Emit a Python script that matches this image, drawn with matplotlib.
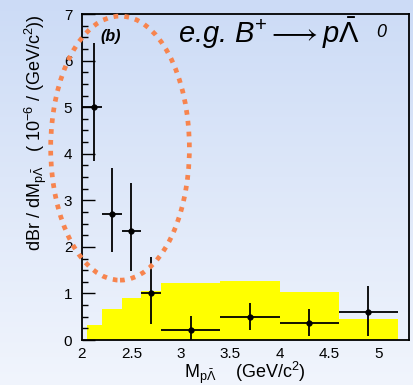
import numpy as np
import matplotlib
matplotlib.use("Agg")
from matplotlib import pyplot as plt, ticker as plticker
from matplotlib.patches import Ellipse

plt.rcParams["font.family"] = ["Liberation Sans", "DejaVu Sans"]
plt.rcParams["mathtext.fontset"] = "custom"
plt.rcParams["mathtext.rm"] = "Liberation Sans"
plt.rcParams["mathtext.it"] = "Liberation Sans:italic"
plt.rcParams["mathtext.bf"] = "Liberation Sans:bold"

# Measured spectrum: bin centres, bin edges, values and error limits
m_center = [2.12, 2.3, 2.5, 2.7, 3.1, 3.7, 4.3, 4.9]
m_lo = [2.0, 2.2, 2.4, 2.6, 2.8, 3.4, 4.0, 4.6]
m_hi = [2.2, 2.4, 2.6, 2.8, 3.4, 4.0, 4.6, 5.2]
dbr = [5.0, 2.7, 2.34, 1.0, 0.22, 0.5, 0.36, 0.61]
dbr_up = [6.38, 3.69, 3.38, 1.79, 0.52, 0.80, 0.66, 1.15]
dbr_down = [3.85, 1.88, 1.49, 0.35, 0.0, 0.22, 0.09, 0.09]

# Phase-space expectation (yellow histogram)
ps_edges = [2.05, 2.2, 2.4, 2.6, 2.8, 3.4, 4.0, 4.6, 5.2]
ps_height = [0.33, 0.67, 0.91, 1.05, 1.22, 1.26, 1.03, 0.45]

# Threshold enhancement region
region_center = (2.385, 4.12)
region_size = (1.404, 5.67)


def draw_plot():
    fig = plt.figure(figsize=(4.13, 3.85), dpi=100)

    # light blue vertical gradient behind everything
    bg = fig.add_axes([0, 0, 1, 1], zorder=-10)
    top = np.array([0.80, 0.86, 0.965])
    bottom = np.array([0.945, 0.96, 0.99])
    t = np.linspace(0, 1, 256)[:, None]
    grad = (top * (1 - t) + bottom * t)[:, None, :]
    bg.imshow(grad, aspect="auto", extent=[0, 1, 0, 1])
    bg.axis("off")

    ax = fig.add_axes([82 / 413, 45 / 385, 327 / 413, 326 / 385])
    ax.set_facecolor("none")
    ax.set_xlim(2.0, 5.31)
    ax.set_ylim(0, 7)

    x = np.array(m_center)
    y = np.array(dbr)
    xerr = [x - np.array(m_lo), np.array(m_hi) - x]
    yerr = [y - np.array(dbr_down), np.array(dbr_up) - y]

    widths = np.diff(ps_edges)
    ax.bar(ps_edges[:-1], ps_height, width=widths, align="edge",
           color="#ffff00", edgecolor="none", zorder=1)

    ax.errorbar(x, y, xerr=xerr, yerr=yerr, fmt="o", color="black",
                markersize=3.5, elinewidth=1.3, capsize=0, zorder=3)

    ell = Ellipse(region_center, region_size[0], region_size[1],
                  fill=False, edgecolor="#f7844e", linewidth=3.4,
                  linestyle=(0, (1, 1.3)), clip_on=False, zorder=4)
    ell.set_capstyle("butt")
    ax.add_patch(ell)

    ax.xaxis.set_major_locator(plticker.MultipleLocator(0.5))
    ax.xaxis.set_major_formatter(plticker.FuncFormatter(lambda v, p: f"{v:g}"))
    ax.yaxis.set_major_locator(plticker.MultipleLocator(1))
    ax.yaxis.set_minor_locator(plticker.MultipleLocator(0.25))
    ax.tick_params(axis="y", which="major", direction="in", length=9,
                   width=1, labelsize=11, pad=7)
    ax.tick_params(axis="y", which="minor", direction="in", length=4.5, width=1)
    ax.tick_params(axis="x", which="both", length=0, labelsize=11, pad=5)
    for s in ax.spines.values():
        s.set_linewidth(1.3)

    fig.text(36 / 413, 1 - 133 / 385,
             r"dBr / dM$_{\mathrm{p}\bar{\Lambda}}$   ( 10$^{-6}$ / (GeV/c$^{2}$))",
             rotation=90, ha="center", va="center", fontsize=13)
    fig.text(245 / 413, 12 / 385,
             r"M$_{\mathrm{p}\bar{\Lambda}}$    (GeV/c$^{2}$)",
             ha="center", va="center", fontsize=13)

    ax.text(2.19, 6.42, "(b)", fontsize=11.5, fontweight="bold",
            fontstyle="italic", ha="left", va="baseline")
    ax.text(2.97, 6.38, r"e.g. B$^{+}$$\longrightarrow$p$\bar{\Lambda}$",
            fontsize=21, fontstyle="italic", ha="left", va="baseline")
    ax.text(5.024, 6.51, "0", fontsize=13, fontstyle="italic",
            ha="center", va="baseline")
    return fig


def save_plot():
    fig = draw_plot()
    fig.savefig("out.png", dpi=100)
    return


if __name__ == "__main__":
    save_plot()
